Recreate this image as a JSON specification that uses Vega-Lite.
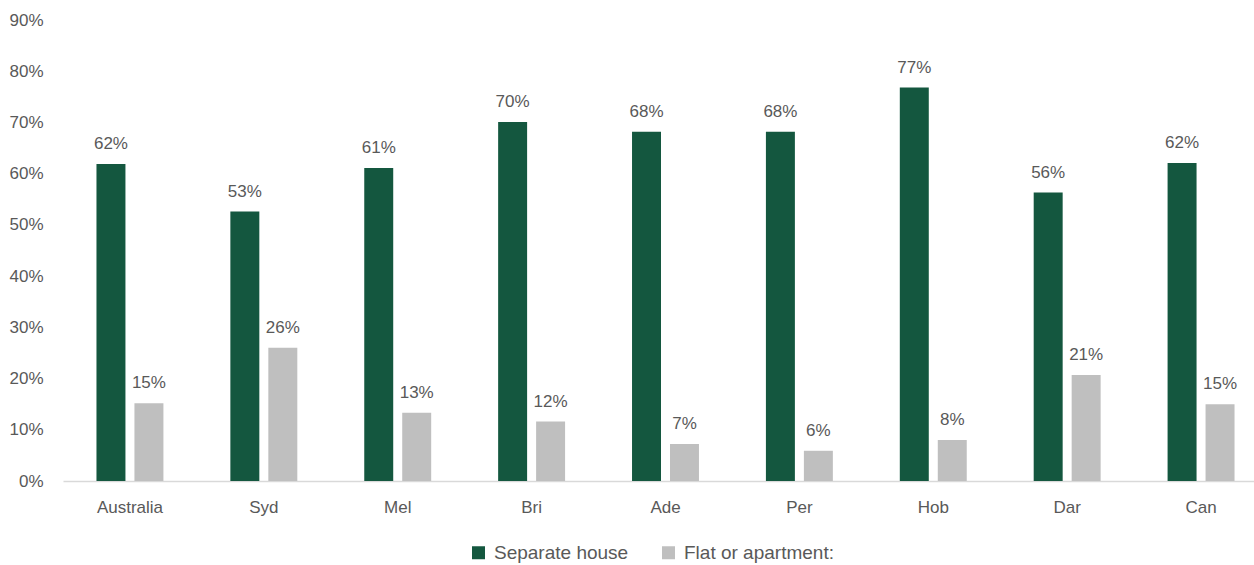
{
  "$schema": "https://vega.github.io/schema/vega-lite/v6.json",
  "width": 1191,
  "height": 461,
  "autosize": {"type": "none"},
  "padding": {"left": 63, "top": 20, "right": 0, "bottom": 84},
  "background": "white",
  "config": {
    "font": "Liberation Sans",
    "view": {"stroke": null}
  },
  "data": {
    "values": [
      {"city": "Australia", "type": "Separate house", "share": 0.619},
      {"city": "Australia", "type": "Flat or apartment:", "share": 0.152},
      {"city": "Syd", "type": "Separate house", "share": 0.526},
      {"city": "Syd", "type": "Flat or apartment:", "share": 0.26},
      {"city": "Mel", "type": "Separate house", "share": 0.611},
      {"city": "Mel", "type": "Flat or apartment:", "share": 0.133},
      {"city": "Bri", "type": "Separate house", "share": 0.701},
      {"city": "Bri", "type": "Flat or apartment:", "share": 0.116},
      {"city": "Ade", "type": "Separate house", "share": 0.682},
      {"city": "Ade", "type": "Flat or apartment:", "share": 0.072},
      {"city": "Per", "type": "Separate house", "share": 0.682},
      {"city": "Per", "type": "Flat or apartment:", "share": 0.059},
      {"city": "Hob", "type": "Separate house", "share": 0.768},
      {"city": "Hob", "type": "Flat or apartment:", "share": 0.08},
      {"city": "Dar", "type": "Separate house", "share": 0.563},
      {"city": "Dar", "type": "Flat or apartment:", "share": 0.207},
      {"city": "Can", "type": "Separate house", "share": 0.621},
      {"city": "Can", "type": "Flat or apartment:", "share": 0.15}
    ]
  },
  "encoding": {
    "x": {
      "field": "city",
      "type": "nominal",
      "sort": null,
      "scale": {"range": [0, 1205], "paddingInner": 0.5, "paddingOuter": 0.25},
      "axis": {
        "title": null,
        "labelAngle": 0,
        "labelFontSize": 17,
        "labelColor": "#595959",
        "labelPadding": 18,
        "ticks": false,
        "domainColor": "#D9D9D9",
        "domainWidth": 1.5,
        "grid": false
      }
    },
    "xOffset": {
      "field": "type",
      "type": "nominal",
      "sort": ["Separate house", "Flat or apartment:"],
      "scale": {"paddingInner": 0.237, "paddingOuter": 0}
    },
    "y": {
      "field": "share",
      "type": "quantitative",
      "scale": {"domain": [0, 0.9]},
      "axis": {
        "title": null,
        "values": [0, 0.1, 0.2, 0.3, 0.4, 0.5, 0.6, 0.7, 0.8, 0.9],
        "format": ".0%",
        "labelFontSize": 17,
        "labelColor": "#595959",
        "labelPadding": 20,
        "ticks": false,
        "domain": false,
        "grid": false
      }
    }
  },
  "layer": [
    {
      "mark": {"type": "bar"},
      "encoding": {
        "color": {
          "field": "type",
          "type": "nominal",
          "scale": {"domain": ["Separate house", "Flat or apartment:"], "range": ["#14573F", "#BFBFBF"]},
          "legend": {
            "title": null,
            "orient": "none",
            "legendX": 406,
            "legendY": 523,
            "direction": "horizontal",
            "symbolType": "square",
            "symbolSize": 169,
            "symbolStrokeWidth": 0,
            "labelFontSize": 19,
            "labelLimit": 0,
            "labelColor": "#595959",
            "columnPadding": 30,
            "labelOffset": 6
          }
        }
      }
    },
    {
      "mark": {"type": "text", "baseline": "bottom", "dy": -11, "fontSize": 17, "color": "#595959"},
      "encoding": {
        "text": {"field": "share", "type": "quantitative", "format": ".0%"}
      }
    }
  ]
}
